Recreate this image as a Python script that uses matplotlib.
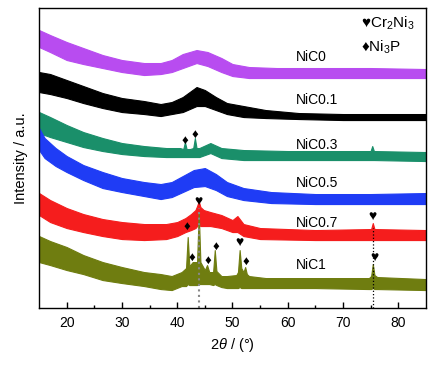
import matplotlib
matplotlib.use('Agg')
import matplotlib.pyplot as plt

plt.rcParams['font.family'] = ['Liberation Sans', 'DejaVu Sans']
plt.rcParams['mathtext.fontset'] = 'custom'
plt.rcParams['mathtext.rm'] = 'Liberation Sans'
plt.rcParams['mathtext.it'] = 'Liberation Sans:italic'

# 2theta positions and upper/lower edge of each noisy trace (arbitrary intensity)
x_nic0 = [15, 17, 20, 23, 26.5, 30, 34, 37, 39, 41, 43.5, 45.5, 48, 50, 53, 58, 65, 75, 85]
hi_nic0 = [278, 273, 266, 260, 253, 248, 245, 245, 248, 254, 258, 256, 250, 244, 241, 240, 240, 240, 239]
lo_nic0 = [261, 256, 248, 244, 240, 236, 233, 234, 236, 240, 245, 242, 236, 232, 230, 230, 230, 230, 230]

x_nic01 = [15, 17, 20, 23, 26.5, 30, 34, 37, 39, 41, 43.5, 45, 47, 49, 52, 56, 62, 70, 85]
hi_nic01 = [236, 234, 228, 222, 215, 210, 207, 204, 206, 211, 221, 218, 211, 205, 202, 198, 195, 194, 194]
lo_nic01 = [216, 214, 210, 205, 200, 196, 194, 192, 194, 196, 202, 202, 198, 194, 191, 190, 189, 188, 188]

x_nic03 = [15, 17, 20, 23, 26.5, 30, 34, 38, 40.5, 41.1, 41.4, 41.7, 42.3, 42.9, 43.2, 43.5, 44, 46, 48, 52, 60,
           75.0, 75.3, 75.6, 85]
hi_nic03 = [196, 191, 183, 176, 170, 165, 162, 160, 160, 159, 166, 159, 159, 160, 170, 160, 160, 165, 160, 158, 157,
            157, 162, 157, 156]
lo_nic03 = [175, 171, 166, 161, 157, 154, 152, 151, 151, 151, 151, 151, 151, 151, 151, 151, 151, 155, 150, 148, 148,
            148, 148, 148, 147]

x_nic05 = [15, 16, 18, 20, 23, 26.5, 30, 34, 37, 39, 41, 43, 45, 47, 49, 52, 57, 65, 75, 85]
hi_nic05 = [180, 170, 160, 152, 143, 136, 130, 126, 124, 126, 132, 138, 140, 134, 126, 120, 116, 114, 114, 115]
lo_nic05 = [158, 150, 142, 136, 128, 120, 116, 112, 109, 111, 116, 121, 122, 118, 112, 108, 105, 104, 104, 104]

x_nic07 = [15, 17, 20, 23, 26.5, 30, 34, 38, 40, 41.5, 42.5, 43.3, 43.6, 43.9, 44.2, 44.8, 46, 48, 50, 50.9, 52, 55,
           65, 75.1, 75.4, 75.7, 85]
hi_nic07 = [115, 108, 100, 94, 89, 86, 84, 84, 86, 90, 94, 98, 102, 107, 101, 98, 96, 93, 88, 92, 84, 80,
            78, 79, 85, 79, 78]
lo_nic07 = [93, 86, 80, 76, 72, 69, 68, 69, 72, 76, 78, 80, 82, 84, 82, 82, 82, 80, 76, 76, 72, 69,
            68, 68, 68, 68, 68]

x_nic1 = [15, 17, 20, 23, 26.5, 30, 34, 37, 39, 40.8, 41.6, 41.9, 42.2, 42.8, 43.6, 43.9, 44.2, 45.0, 45.4, 45.8,
          46.5, 46.8, 47.1, 48, 49, 50.7, 51.0, 51.3, 51.6, 52.0, 52.3, 52.6, 53, 56, 65, 74.7, 75.1, 75.4, 75.7,
          76.2, 85]
hi_nic1 = [72, 67, 61, 53, 46, 41, 36, 34, 32, 36, 40, 71, 42, 46, 46, 96, 46, 38, 43, 36,
           36, 58, 37, 32, 32, 33, 36, 58, 40, 36, 41, 34, 32, 30, 30, 30, 32, 44, 33,
           31, 29]
lo_nic1 = [46, 43, 38, 34, 28, 25, 22, 19, 18, 22, 22, 24, 23, 23, 23, 24, 24, 24, 24, 24,
           23, 24, 23, 21, 20, 20, 20, 21, 20, 20, 20, 20, 20, 20, 20, 19, 19, 20, 19,
           19, 18]

names = ['NiC0', 'NiC0.1', 'NiC0.3', 'NiC0.5', 'NiC0.7', 'NiC1']
colors = ['#b84cf0', '#000000', '#1a8f6a', '#1f3cf5', '#f51d1d', '#6f7d10']
label_y = [251, 208, 163, 125, 85, 43]

# peak markers (2theta, intensity)
heart_x = [43.9, 75.4, 51.3, 75.7]
heart_y = [107, 92, 66, 51]
diamond_x = [41.4, 43.2, 41.7, 42.6, 45.5, 47.0, 52.4]
diamond_y = [167, 173, 81, 50, 47, 61, 46]

xs = [x_nic0, x_nic01, x_nic03, x_nic05, x_nic07, x_nic1]
his = [hi_nic0, hi_nic01, hi_nic03, hi_nic05, hi_nic07, hi_nic1]
los = [lo_nic0, lo_nic01, lo_nic03, lo_nic05, lo_nic07, lo_nic1]

fig = plt.figure(figsize=(4.39, 3.65), dpi=100)
ax = fig.add_axes([0.089, 0.156, 0.881, 0.822])

for x, hi, lo, c in zip(xs, his, los, colors):
    ax.fill_between(x, lo, hi, color=c, linewidth=0.8, edgecolor=c)

for name, ly in zip(names, label_y):
    ax.text(61.5, ly, name, fontsize=10, va='center', ha='left')

ax.plot([43.9, 43.9], [0, 100], color='#888888', linestyle=':', linewidth=1.5)
ax.plot([75.4, 75.4], [0, 80], color='black', linestyle=':', linewidth=0.9)

for hx, hy in zip(heart_x, heart_y):
    ax.text(hx, hy, '\u2665', fontsize=10, ha='center', va='center')
for dx, dy in zip(diamond_x, diamond_y):
    ax.text(dx, dy, '\u2666', fontsize=9.5, ha='center', va='center')

ax.text(73.3, 285, '\u2665Cr$_2$Ni$_3$', fontsize=11, ha='left', va='center')
ax.text(73.3, 261, '\u2666Ni$_3$P', fontsize=11, ha='left', va='center')

ax.set_xlim(15, 85)
ax.set_ylim(0, 300)
ax.set_xticks([20, 30, 40, 50, 60, 70, 80])
ax.set_xticks([25, 35, 45, 55, 65, 75], minor=True)
ax.tick_params(axis='x', direction='in', length=4, width=1, labelsize=10, pad=6)
ax.tick_params(axis='x', which='minor', direction='in', length=2.5, width=1)
ax.set_yticks([])
for s in ax.spines.values():
    s.set_linewidth(1)

ax.set_xlabel(r'2$\it{\theta}$ / (°)', fontsize=10.5, labelpad=4)
ax.set_ylabel('Intensity / a.u.', fontsize=10.5, labelpad=8)

plt.savefig('out.png', dpi=100)
